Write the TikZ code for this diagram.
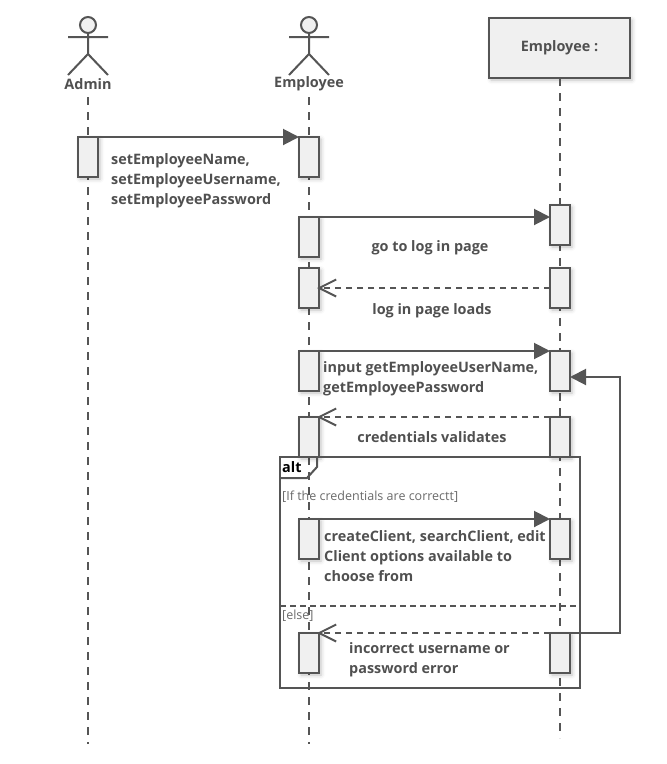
\documentclass[tikz,border=0pt]{standalone}
\usepackage{fontspec}
\setmainfont{Open Sans}
\usepackage{xcolor}
\usetikzlibrary{arrows.meta,shadows.blur}
\definecolor{GrisLinea}{RGB}{85,85,85}
\definecolor{GrisTexto}{RGB}{80,80,80}
\definecolor{GrisCaja}{RGB}{240,240,240}
\tikzset{
  lifeline/.style={GrisLinea,line width=2pt,dash pattern=on 8pt off 7pt},
  actbar/.style={draw=GrisLinea,fill=GrisCaja,line width=2pt,outer sep=0pt,minimum width=20pt,minimum height=40pt,inner sep=0pt,
    blur shadow={shadow xshift=2pt,shadow yshift=-2pt,shadow blur radius=4pt,shadow opacity=25}},
  partbox/.style={actbar,minimum width=141pt,minimum height=60pt,font=\fontsize{14.4}{20}\selectfont\bfseries,text=GrisTexto},
  callmsg/.style={GrisLinea,line width=2pt,-{Triangle[length=16pt,width=16pt]}},
  backmsg/.style={GrisLinea,line width=2pt,dash pattern=on 6pt off 5pt,shorten >=-2pt,-{Straight Barb[length=17pt,width=17pt]}},
  msgtext/.style={font=\fontsize{14.4}{20}\selectfont\bfseries,text=GrisTexto,align=left,inner sep=0pt},
  guardtext/.style={font=\fontsize{12.5}{14}\selectfont,text=GrisTexto!85,inner sep=0pt},
  stick/.style={GrisLinea,line width=2pt},
}
\begin{document}
\begin{tikzpicture}[x=1pt,y=-1pt]
  \useasboundingbox (0,0) rectangle (667,764);
  % lifelines
  \coordinate (adminTop) at (88,97);
  \coordinate (adminEnd) at (88,744);
  \coordinate (empTop) at (309,97);
  \coordinate (empEnd) at (309,744);
  \coordinate (srvEnd) at (560,738);
  \draw[lifeline] (adminTop)--(adminEnd);
  \draw[lifeline] (empTop)--(empEnd);
  \node[partbox] (srvBox) at (559.5,48) {Employee :};
  \draw[lifeline] (srvBox.south -| srvEnd)--(srvEnd);
  % actors
  \foreach \ax/\aname/\atext in {88/admin/Admin,309/emp/Employee}{
    \draw[stick,fill=GrisCaja] (\ax,25) circle (8pt);
    \draw[stick] (\ax,33)--(\ax,54) (\ax-20,37)--(\ax+20,37) (\ax-20,75)--(\ax,54)--(\ax+20,75);
    \node[msgtext] (\aname Label) at (\ax,84) {\atext};
  }
  % bars
  \node[actbar] (adm1) at (88,157) {};
  \node[actbar] (emp1) at (309,157) {};
  \node[actbar] (emp2) at (309,237) {};
  \node[actbar] (emp3) at (309,288) {};
  \node[actbar] (emp4) at (309,371) {};
  \node[actbar] (emp5) at (309,437) {};
  \node[actbar] (emp6) at (309,539) {};
  \node[actbar] (emp7) at (309,653) {};
  \node[actbar] (srv1) at (560,225) {};
  \node[actbar] (srv2) at (560,288) {};
  \node[actbar] (srv3) at (560,371) {};
  \node[actbar] (srv4) at (560,437) {};
  \node[actbar] (srv5) at (560,539) {};
  \node[actbar] (srv6) at (560,653) {};
  % messages
  \coordinate (loopIn) at (570,377);
  \draw[callmsg] (adm1.north east)--(emp1.north west);
  \draw[callmsg] (emp2.north east)--(emp2.north east -| srv1.west);
  \draw[backmsg] (srv2.west)--(emp3.east);
  \draw[callmsg] (emp4.north east)--(srv3.north west);
  \draw[backmsg] (srv4.north west)--(emp5.north east);
  \draw[callmsg] (emp6.north east)--(srv5.north west);
  \draw[backmsg] (srv6.north west)--(emp7.north east);
  \draw[callmsg] (srv6.north east)--++(50,0)|-(loopIn);
  % alt frame
  \draw[GrisLinea,line width=2pt] (280,457) rectangle (580,688);
  \draw[GrisLinea,line width=2pt] (280,478)--(307,478)--(317,467)--(317,457);
  \draw[GrisLinea,line width=1.5pt,dash pattern=on 6pt off 4pt] (280,606)--(580,606);
  \node[msgtext,text=black,anchor=west] (altLabel) at (282,467) {alt};
  \node[guardtext,anchor=west] (guardIf) at (282,497) {[If the credentials are correctt]};
  \node[guardtext,anchor=west] (guardElse) at (282,616) {[else]};
  % labels
  \node[msgtext,anchor=west] (lblSet) at (111,181) {setEmployeeName,\\setEmployeeUsername,\\setEmployeePassword};
  \node[msgtext] (lblGo) at (430,248) {go to log in page};
  \node[msgtext] (lblLoads) at (432,311) {log in page loads};
  \node[msgtext,anchor=west] (lblInput) at (323,379) {input getEmployeeUserName,\\getEmployeePassword};
  \node[msgtext] (lblValid) at (432,437) {credentials validates};
  \node[msgtext,anchor=west] (lblClient) at (324,556) {createClient, searchClient, edit\\Client options available to\\choose from};
  \node[msgtext,anchor=west] (lblError) at (349,660) {incorrect username or\\password error};
\end{tikzpicture}
\end{document}
